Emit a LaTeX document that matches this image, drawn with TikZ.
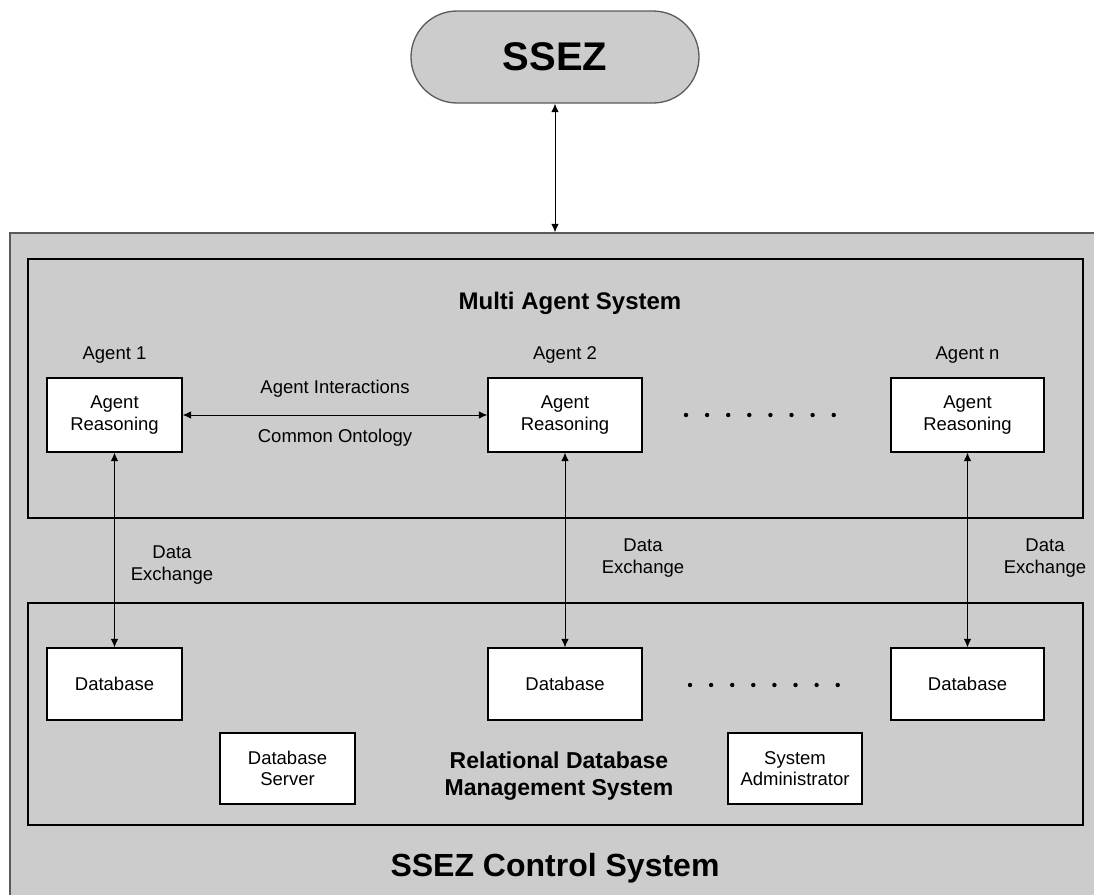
\documentclass[tikz,border=0pt]{standalone}
\usepackage{fontspec}
\setmainfont{Liberation Sans}
\usepackage{tikz}
\definecolor{panelGray}{RGB}{204, 204, 204}
\definecolor{rimGray}{RGB}{90, 90, 90}
\usetikzlibrary{arrows.meta, positioning, calc}

\begin{document}
\begin{tikzpicture}[
    x=1pt, y=-1pt,
    every node/.style={font=\fontsize{18.5}{21.5}\selectfont},
    panel/.style={rectangle, draw=black, line width=1.3pt, minimum width=1055pt, minimum height=#1, inner sep=0pt},
    unitbox/.style={rectangle, draw=black, line width=1.2pt, fill=white, minimum width=#1, minimum height=74pt, align=center, inner sep=0pt},
    tag/.style={inner sep=0pt, align=center},
    heading/.style={inner sep=0pt, align=center, font=\bfseries\fontsize{#1}{27}\selectfont},
    link/.style={line width=1pt, {Latex[length=8.5pt,width=7.5pt]}-{Latex[length=8.5pt,width=7.5pt]}}
]
    \useasboundingbox (0,0) rectangle (1094,894);

    % Outer system and top node
    \node[rectangle, draw=rimGray, line width=1.3pt, fill=panelGray, minimum width=1090pt, minimum height=677pt, inner sep=0pt] (control) at (555,571.5) {};
    \node[rectangle, rounded corners=46pt, draw=rimGray, line width=1.3pt, fill=panelGray, minimum width=288pt, minimum height=92pt, font=\bfseries\fontsize{40}{44}\selectfont] (ssez) at (555,57) {SSEZ};
    \node[heading=32] (controltitle) at (555,868) {SSEZ Control System};

    % Panels
    \node[panel=259pt] (mas) at (555.5,388.5) {};
    \node[panel=222pt] (rdbms) at (555.5,714) {};
    \node[heading=24] (mastitle) at (570,303) {Multi Agent System};
    \node[heading=23] (rdbmstitle) at (559,776) {Relational Database\\Management System};

    % Agents
    \node[unitbox=135pt] (agent1) at (114.5,415) {Agent\\Reasoning};
    \node[unitbox=154pt] (agent2) at (565,415) {Agent\\Reasoning};
    \node[unitbox=153pt] (agentn) at (967.5,415) {Agent\\Reasoning};
    \node[tag, above=14pt of agent1] (agent1lbl) {Agent 1};
    \node[tag, above=14pt of agent2] (agent2lbl) {Agent 2};
    \node[tag, above=14pt of agentn] (agentnlbl) {Agent n};

    % Databases
    \node[unitbox=135pt, minimum height=72pt] (db1) at (114.5,684) {Database};
    \node[unitbox=154pt, minimum height=72pt] (db2) at (565,684) {Database};
    \node[unitbox=153pt, minimum height=72pt] (dbn) at (967.5,684) {Database};
    \node[unitbox=135pt, minimum height=71pt] (dbserver) at (287.5,768.5) {Database\\Server};
    \node[unitbox=134pt, minimum height=71pt] (sysadmin) at (795,768.5) {System\\Administrator};

    % Dots
    \foreach \i in {0,...,7} {
        \fill (686+21.1*\i,415) circle (2.2pt);
        \fill (690+21.1*\i,685) circle (2.2pt);
    }

    % Connections
    \draw[link] (ssez) -- (control);
    \draw[link] (agent1) -- node[tag, yshift=26pt] {Agent Interactions} node[tag, yshift=-23pt] {Common Ontology} (agent2);
    \draw[link] (agent1) -- (db1);
    \draw[link] (agent2) -- (db2);
    \draw[link] (agentn) -- (dbn);
    \node[tag] (dx1) at (172,565) {Data\\Exchange};
    \node[tag] (dx2) at (643,558) {Data\\Exchange};
    \node[tag] (dxn) at (1045,558) {Data\\Exchange};
\end{tikzpicture}
\end{document}
